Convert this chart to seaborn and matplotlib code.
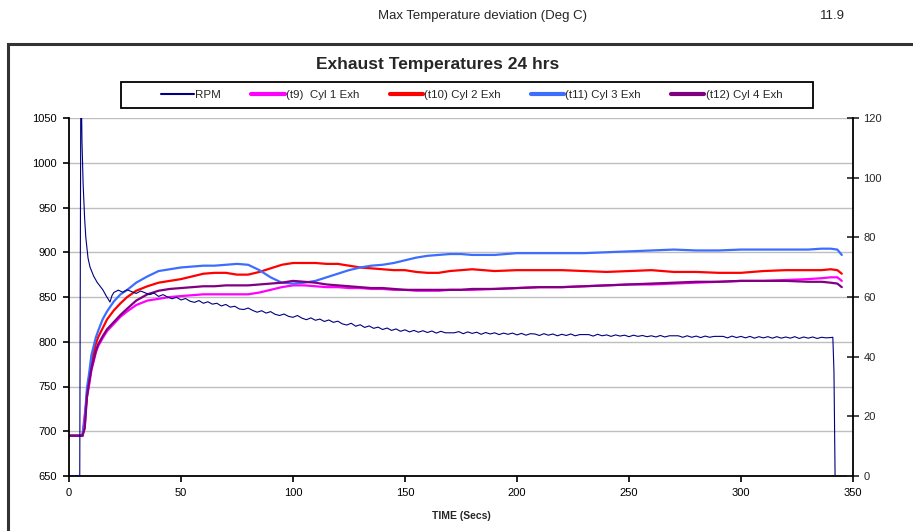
import numpy as np
import pandas as pd
import matplotlib
matplotlib.use("Agg")
import matplotlib.pyplot as plt
import seaborn as sns
from matplotlib.lines import Line2D
from matplotlib.patches import Rectangle

# ---------------- data ----------------
temp_time = [0, 6, 7, 8, 9, 10, 11, 12, 13, 15, 17, 20, 23, 26, 30, 35, 40, 45, 50, 55,
             60, 65, 70, 75, 80, 85, 90, 95, 100, 105, 110, 115, 120, 125, 130, 135, 140,
             145, 150, 155, 160, 165, 170, 175, 180, 190, 200, 210, 220, 230, 240, 250,
             260, 270, 280, 290, 300, 310, 320, 330, 336, 340, 343, 345]

cyl1 = [695, 695, 718, 738, 752, 768, 778, 788, 795, 804, 812, 820, 828, 834, 841, 846, 848, 850, 851, 852,
        853, 853, 853, 853, 853, 855, 858, 861, 863, 863, 862, 861, 861, 860, 860, 859, 859,
        858, 858, 857, 857, 857, 858, 858, 858, 859, 860, 861, 861, 862, 863, 864,
        864, 865, 866, 867, 868, 868, 869, 870, 871, 872, 872, 868]

cyl2 = [695, 695, 705, 742, 760, 778, 788, 798, 805, 815, 825, 835, 843, 850, 857, 862, 866, 868, 870, 873,
        876, 877, 877, 875, 875, 878, 882, 886, 888, 888, 888, 887, 887, 885, 883, 882, 881,
        880, 880, 878, 877, 877, 879, 880, 881, 879, 880, 880, 880, 879, 878, 879,
        880, 878, 878, 877, 877, 879, 880, 880, 880, 881, 880, 876]

cyl3 = [695, 695, 712, 748, 765, 785, 795, 805, 812, 825, 834, 845, 853, 858, 866, 873, 879, 881, 883, 884,
        885, 885, 886, 887, 886, 880, 872, 866, 865, 866, 868, 872, 876, 880, 883, 885, 886,
        888, 891, 894, 896, 897, 898, 898, 897, 897, 899, 899, 899, 899, 900, 901,
        902, 903, 902, 902, 903, 903, 903, 903, 904, 904, 903, 897]

cyl4 = [695, 695, 703, 738, 755, 770, 780, 790, 797, 806, 814, 822, 830, 837, 846, 853, 857, 859, 860, 861,
        862, 862, 863, 863, 863, 864, 865, 866, 868, 867, 866, 864, 863, 862, 861, 860, 860,
        859, 858, 858, 858, 858, 858, 858, 859, 859, 860, 861, 861, 862, 863, 864,
        865, 866, 867, 867, 868, 868, 868, 867, 867, 866, 865, 861]

rpm_time_start = [0, 4.8, 5.3, 5.8, 6.3, 7, 7.5, 8.5, 9.4, 11, 12.5, 14, 15.2, 16.5, 18.3, 19.2]
rpm_start = [0, 0, 140, 112, 98, 86, 80, 73, 70, 67, 65, 63.5, 62.3, 60.5, 58.3, 60.5]

rpm_time_mid = list(np.arange(20, 341, 2))
rpm_mid = [61.5, 62.3, 61.6, 62.4, 61.8, 61.2, 62.0, 61.4, 60.8, 61.3,
           60.2, 60.8, 60.0, 59.4, 59.9, 59.0, 59.5, 58.6, 58.2, 58.8,
           57.9, 58.4, 57.6, 57.9, 57.0, 57.5, 56.6, 56.9, 56.0, 55.8,
           56.3, 55.5, 54.9, 55.4, 54.6, 55.1, 54.2, 53.8, 54.3, 53.5,
           53.2, 53.8, 52.9, 52.4, 53.0, 52.2, 52.6, 51.8, 52.3, 51.5,
           51.9, 51.0, 50.6, 51.2, 50.2, 50.7, 49.8, 50.3, 49.5, 49.9,
           49.1, 49.6, 48.8, 49.3, 48.5, 49.0, 48.3, 48.8, 48.2, 48.7,
           48.1, 48.6, 47.9, 48.5, 48.0, 48.0, 48.0, 48.4, 47.7, 48.3,
           47.8, 48.2, 47.5, 48.1, 47.6, 48.0, 47.4, 47.9, 47.5, 47.9,
           47.3, 47.8, 47.2, 47.7, 47.6, 47.1, 47.7, 47.2, 47.6, 47.0,
           47.5, 47.1, 47.6, 47.0, 47.4, 47.4, 47.4, 46.9, 47.5, 47.0,
           47.3, 46.8, 47.3, 46.9, 47.2, 46.7, 47.2, 46.8, 47.1, 46.7,
           47.0, 46.6, 47.1, 46.6, 47.0, 47.0, 47.0, 46.5, 47.0, 46.5,
           46.9, 46.4, 46.9, 46.5, 46.8, 46.8, 46.8, 46.3, 46.9, 46.4,
           46.8, 46.3, 46.8, 46.2, 46.7, 46.3, 46.7, 46.2, 46.7, 46.2,
           46.6, 46.2, 46.7, 46.1, 46.6, 46.2, 46.6, 46.1, 46.5, 46.3,
           46.4]
rpm_time_end = [341, 341.5, 342]
rpm_end = [46.5, 35, 0]

rpm_time = rpm_time_start + rpm_time_mid + rpm_time_end
rpm = rpm_start + rpm_mid + rpm_end

labels = ["RPM", "(t9)  Cyl 1 Exh", "(t10) Cyl 2 Exh", "(t11) Cyl 3 Exh", "(t12) Cyl 4 Exh"]
colors = ["#000080", "#FF00FF", "#FF0000", "#3D6DFF", "#800080"]

title = "Exhaust Temperatures 24 hrs"
header_label = "Max Temperature deviation (Deg C)"
header_value = "11.9"
x_ticks = [0, 50, 100, 150, 200, 250, 300, 350]
y_ticks = [650, 700, 750, 800, 850, 900, 950, 1000, 1050]
y2_ticks = [0, 20, 40, 60, 80, 100, 120]

# ---------------- style ----------------
sns.set_style("white")
plt.rcParams["font.family"] = ["Liberation Sans", "DejaVu Sans"]

W, H = 913, 531
fig = plt.figure(figsize=(W / 100, H / 100), dpi=100)
ax = fig.add_axes([69 / W, 1 - 476 / H, (853 - 69) / W, (476 - 118) / H])
ax2 = ax.twinx()

temps = pd.DataFrame({"t": temp_time, "c1": cyl1, "c2": cyl2, "c3": cyl3, "c4": cyl4})
for col, c in zip(["c1", "c2", "c3", "c4"], colors[1:]):
    sns.lineplot(data=temps, x="t", y=col, ax=ax, color=c, lw=1.6, estimator=None, sort=False)

rpm_df = pd.DataFrame({"t": rpm_time, "rpm": rpm})
sns.lineplot(data=rpm_df, x="t", y="rpm", ax=ax2, color=colors[0], lw=0.8, estimator=None, sort=False)

ax.set_xlim(0, 350)
ax.set_ylim(650, 1050)
ax2.set_ylim(0, 120)
ax.set_xticks(x_ticks)
ax.set_yticks(y_ticks)
ax2.set_yticks(y2_ticks)
ax.set_ylabel("")
ax2.set_ylabel("")
ax.set_xlabel("TIME (Secs)", fontsize=7.5, fontweight="bold", labelpad=9)

ax.grid(axis="y", color="#BEBEBE", lw=1)
ax.grid(axis="x", visible=False)
ax2.grid(False)
for s in ["top", "right"]:
    ax.spines[s].set_visible(False)
for s in ["left", "bottom"]:
    ax.spines[s].set_color("black")
    ax.spines[s].set_linewidth(1.3)
for s in ["top", "left", "bottom"]:
    ax2.spines[s].set_visible(False)
ax2.spines["right"].set_color("black")
ax2.spines["right"].set_linewidth(1.3)

ax.tick_params(axis="both", direction="out", length=4, width=1.2, labelsize=8, pad=4, colors="black")
ax.tick_params(axis="y", left=True, pad=5)
ax.tick_params(axis="x", bottom=True, pad=5)
ax2.tick_params(axis="y", direction="inout", length=9, width=1.2, labelsize=8, pad=3, right=True)

# header and title
fig.text(378 / W, 1 - 16 / H, header_label, fontsize=9.5, ha="left", va="center")
fig.text(820 / W, 1 - 16 / H, header_value, fontsize=9.5, ha="left", va="center")
fig.text(438 / W, 1 - 65 / H, title, fontsize=12.5, fontweight="bold", ha="center", va="center")

# outer chart frame
fig.add_artist(Rectangle((8 / W, -0.05), 1.2, 1 - 44 / H + 0.05, transform=fig.transFigure,
                         fill=False, ec="#333333", lw=2.2))
# legend frame
fig.add_artist(Rectangle((121 / W, 1 - 108 / H), (813 - 121) / W, 26 / H, transform=fig.transFigure,
                         fill=False, ec="black", lw=1.3))

handles = [Line2D([], [], color=colors[0], lw=1.5)] + [Line2D([], [], color=c, lw=3.0) for c in colors[1:]]
fig.legend(handles, labels, loc="center", bbox_to_anchor=(471.5 / W, 1 - 95 / H), ncol=5,
           frameon=False, fontsize=8.25, handlelength=2.9, handletextpad=0.1, columnspacing=2.65)

fig.savefig("out.png", dpi=100)
